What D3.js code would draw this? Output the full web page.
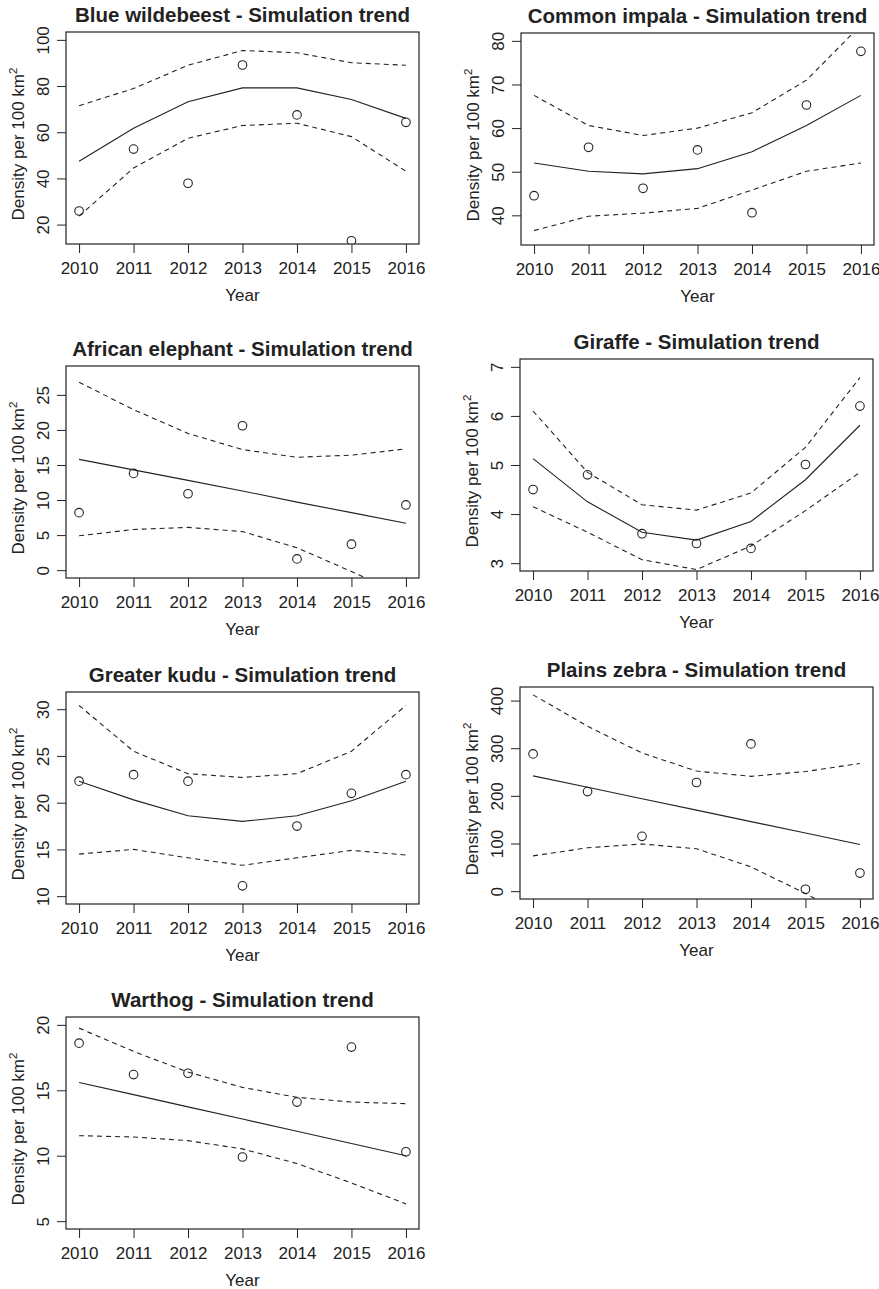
<!DOCTYPE html>
<html>
<head>
<meta charset="utf-8">
<script src="https://cdn.jsdelivr.net/npm/d3@7"></script>
<style>
  body { margin: 0; background: #fff; }
  svg { font-family: "Liberation Sans", Arial, Helvetica, sans-serif; }
</style>
</head>
<body>
<div class="chart"></div>
<script>
// years on the x axis
const years = [2010, 2011, 2012, 2013, 2014, 2015, 2016];

// Blue wildebeest
const wildebeestObs   = [25.9, 52.7, 37.9, 89.1, 67.5, 13.0, 64.3];
const wildebeestMean  = [47.4, 61.7, 73.2, 79.2, 79.2, 74.2, 66.0];
const wildebeestUpper = [71.5, 78.9, 89.0, 95.4, 94.4, 90.1, 89.0];
const wildebeestLower = [23.7, 44.5, 57.4, 62.9, 63.9, 58.1, 43.1];
const wildebeestTicks = [20, 40, 60, 80, 100];
const wildebeestLim   = [15, 100];

// Common impala
const impalaObs   = [44.5, 55.6, 46.2, 55.0, 40.6, 65.3, 77.6];
const impalaMean  = [52.0, 50.1, 49.5, 50.7, 54.6, 60.6, 67.5];
const impalaUpper = [67.5, 60.6, 58.3, 60.0, 63.5, 71.0, 83.6];
const impalaLower = [36.5, 39.8, 40.5, 41.6, 45.8, 50.1, 52.0];
const impalaTicks = [40, 50, 60, 70, 80];
const impalaLim   = [35, 80];

// African elephant
const elephantObs   = [8.2, 13.8, 10.9, 20.6, 1.6, 3.7, 9.3];
const elephantMean  = [15.8, 14.3, 12.8, 11.3, 9.7, 8.2, 6.7];
const elephantUpper = [26.8, 22.9, 19.5, 17.2, 16.1, 16.4, 17.3];
const elephantLower = [4.9, 5.8, 6.1, 5.5, 3.2, -0.2, -3.6];
const elephantTicks = [0, 5, 10, 15, 20, 25];
const elephantLim   = [0, 28];

// Giraffe
const giraffeObs   = [4.50, 4.80, 3.60, 3.40, 3.30, 5.01, 6.20];
const giraffeMean  = [5.13, 4.25, 3.63, 3.47, 3.85, 4.70, 5.81];
const giraffeUpper = [6.10, 4.85, 4.19, 4.08, 4.43, 5.36, 6.78];
const giraffeLower = [4.15, 3.63, 3.07, 2.87, 3.35, 4.07, 4.85];
const giraffeTicks = [3, 4, 5, 6, 7];
const giraffeLim   = [3, 7];

// Greater kudu
const kuduObs   = [22.3, 23.0, 22.3, 11.1, 17.5, 21.0, 23.0];
const kuduMean  = [22.3, 20.3, 18.6, 18.0, 18.6, 20.2, 22.3];
const kuduUpper = [30.4, 25.5, 23.1, 22.7, 23.1, 25.5, 30.4];
const kuduLower = [14.5, 15.0, 14.1, 13.3, 14.1, 14.9, 14.4];
const kuduTicks = [10, 15, 20, 25, 30];
const kuduLim   = [10, 31];

// Plains zebra
const zebraObs   = [288, 209, 115, 228, 309, 4, 38];
const zebraMean  = [242, 218, 194, 170, 146, 122, 98];
const zebraUpper = [412, 346, 290, 252, 241, 251, 268];
const zebraLower = [74, 91, 99, 89, 51, -5, -65];
const zebraTicks = [0, 100, 200, 300, 400];
const zebraLim   = [0, 412];

// Warthog
const warthogObs   = [18.6, 16.2, 16.3, 9.9, 14.1, 18.3, 10.3];
const warthogMean  = [15.6, 14.67, 13.73, 12.8, 11.87, 10.93, 10.0];
const warthogUpper = [19.75, 17.97, 16.39, 15.22, 14.46, 14.10, 13.98];
const warthogLower = [11.53, 11.43, 11.15, 10.52, 9.40, 7.92, 6.32];
const warthogTicks = [5, 10, 15, 20];
const warthogLim   = [5, 20];

const panels = [
  {title: "Blue wildebeest", obs: wildebeestObs, mean: wildebeestMean, upper: wildebeestUpper, lower: wildebeestLower, ticks: wildebeestTicks, lim: wildebeestLim, x: 66, y: 32},
  {title: "Common impala", obs: impalaObs, mean: impalaMean, upper: impalaUpper, lower: impalaLower, ticks: impalaTicks, lim: impalaLim, x: 521, y: 33},
  {title: "African elephant", obs: elephantObs, mean: elephantMean, upper: elephantUpper, lower: elephantLower, ticks: elephantTicks, lim: elephantLim, x: 66, y: 366},
  {title: "Giraffe", obs: giraffeObs, mean: giraffeMean, upper: giraffeUpper, lower: giraffeLower, ticks: giraffeTicks, lim: giraffeLim, x: 520, y: 359},
  {title: "Greater kudu", obs: kuduObs, mean: kuduMean, upper: kuduUpper, lower: kuduLower, ticks: kuduTicks, lim: kuduLim, x: 66, y: 692},
  {title: "Plains zebra", obs: zebraObs, mean: zebraMean, upper: zebraUpper, lower: zebraLower, ticks: zebraTicks, lim: zebraLim, x: 520, y: 687},
  {title: "Warthog", obs: warthogObs, mean: warthogMean, upper: warthogUpper, lower: warthogLower, ticks: warthogTicks, lim: warthogLim, x: 66, y: 1017}
];

const width = 879, height = 1289;
const boxW = 353, boxH = 212;
const ink = "#222";
const fontFam = "Liberation Sans, Arial, sans-serif";

const svg = d3.select(".chart").append("svg")
  .attr("width", width)
  .attr("height", height);

// R style 4% padding around the limits
function pad(lim) {
  const p = (lim[1] - lim[0]) * 0.04;
  return [lim[0] - p, lim[1] + p];
}

panels.forEach((p, k) => {
  const g = svg.append("g").attr("transform", `translate(${p.x},${p.y})`);

  const xScale = d3.scaleLinear().domain(pad([2010, 2016])).range([0, boxW]);
  const yScale = d3.scaleLinear().domain(pad(p.lim)).range([boxH, 0]);

  g.append("clipPath").attr("id", "clip" + k)
    .append("rect").attr("width", boxW).attr("height", boxH);

  const plot = g.append("g").attr("clip-path", `url(#clip${k})`);

  const line = d3.line()
    .x((d, i) => xScale(years[i]))
    .y(d => yScale(d));

  plot.append("path").datum(p.mean)
    .attr("fill", "none").attr("stroke", ink).attr("stroke-width", 1.1)
    .attr("d", line);

  [p.upper, p.lower].forEach(s => {
    plot.append("path").datum(s)
      .attr("fill", "none").attr("stroke", ink).attr("stroke-width", 1.1)
      .attr("stroke-dasharray", "5,4")
      .attr("d", line);
  });

  plot.selectAll("circle")
    .data(p.obs)
    .enter()
    .append("circle")
    .attr("cx", (d, i) => xScale(years[i]))
    .attr("cy", d => yScale(d))
    .attr("r", 4.3)
    .attr("fill", "none")
    .attr("stroke", ink)
    .attr("stroke-width", 1.1);

  // frame
  g.append("rect")
    .attr("width", boxW).attr("height", boxH)
    .attr("fill", "none").attr("stroke", ink).attr("stroke-width", 1.2);

  const xAxis = d3.axisBottom(xScale).tickValues(years).tickFormat(d3.format("d"))
    .tickSize(9).tickSizeOuter(0);
  const xg = g.append("g").attr("transform", `translate(0,${boxH})`).call(xAxis);
  xg.select(".domain").remove();
  xg.selectAll(".tick line").attr("stroke", ink);
  xg.selectAll(".tick text")
    .attr("y", 30).attr("dy", 0)
    .attr("fill", ink).attr("font-size", 17)
    .attr("font-family", fontFam);

  const yAxis = d3.axisLeft(yScale).tickValues(p.ticks).tickFormat(d => String(d))
    .tickSize(9).tickSizeOuter(0);
  const yg = g.append("g").call(yAxis);
  yg.select(".domain").remove();
  yg.selectAll(".tick line").attr("stroke", ink);
  yg.selectAll(".tick text")
    .attr("x", 0).attr("dy", 0)
    .attr("transform", "translate(-17,0) rotate(-90)")
    .attr("text-anchor", "middle")
    .attr("fill", ink).attr("font-size", 17)
    .attr("font-family", fontFam);

  g.append("text")
    .attr("x", boxW / 2).attr("y", -10)
    .attr("text-anchor", "middle")
    .attr("font-size", 20.5).attr("font-weight", "bold")
    .attr("fill", ink)
    .text(p.title + " - Simulation trend");

  g.append("text")
    .attr("x", xScale(2013)).attr("y", boxH + 57)
    .attr("text-anchor", "middle")
    .attr("font-size", 17).attr("fill", ink)
    .text("Year");

  const yl = g.append("text")
    .attr("transform", `translate(-42,${boxH / 2 + 6}) rotate(-90)`)
    .attr("text-anchor", "middle")
    .attr("font-size", 17).attr("fill", ink);
  yl.append("tspan").text("Density per 100 km");
  yl.append("tspan").attr("dy", -7).attr("font-size", 11.5).text("2");
});
</script>
</body>
</html>
